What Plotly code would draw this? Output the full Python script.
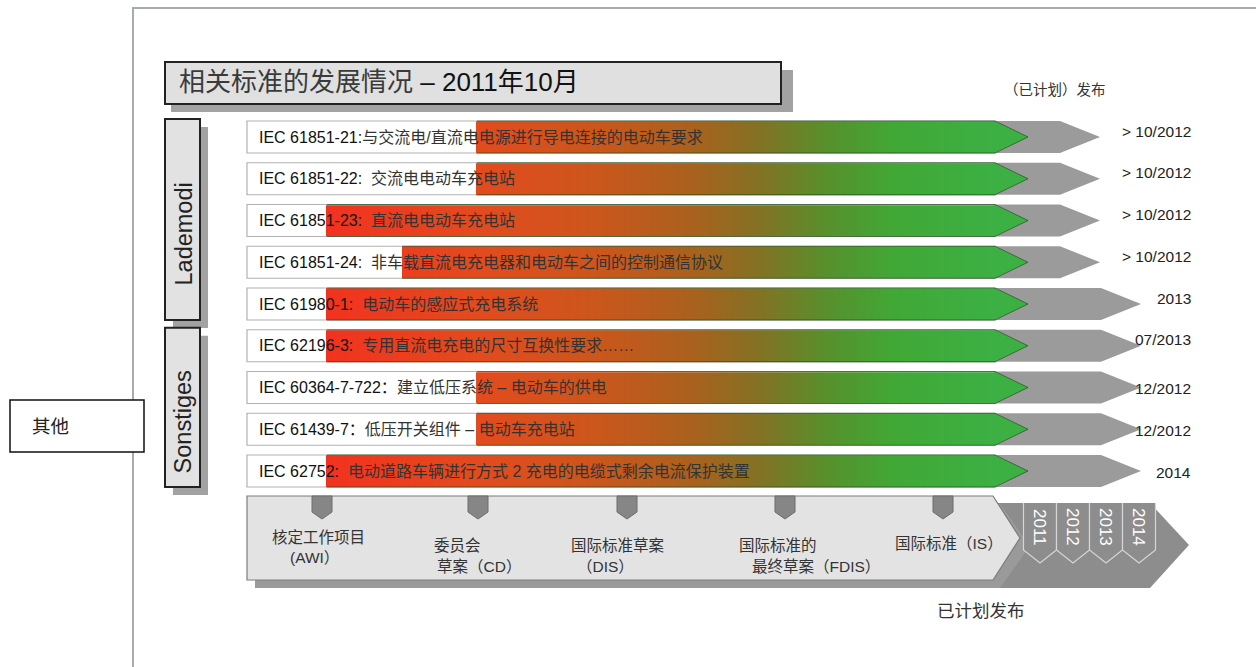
import numpy as np
import plotly.graph_objects as go

# ---------------------------------------------------------------- data
title_main = "相关标准的发展情况"
title_date = " – 2011年10月"

group_names = ["Lademodi", "Sonstiges"]
group_sizes = [5, 4]

standard_codes = [
    "IEC 61851-21:", "IEC 61851-22:", "IEC 61851-23:", "IEC 61851-24:",
    "IEC 61980-1:", "IEC 62196-3:", "IEC 60364-7-722：", "IEC 61439-7：",
    "IEC 62752:",
]
standard_titles = [
    "与交流电/直流电电源进行导电连接的电动车要求",
    "  交流电电动车充电站",
    "  直流电电动车充电站",
    "  非车载直流电充电器和电动车之间的控制通信协议",
    "  电动车的感应式充电系统",
    "  专用直流电充电的尺寸互换性要求……",
    "建立低压系统 – 电动车的供电",
    "低压开关组件 – 电动车充电站",
    "  电动道路车辆进行方式 2 充电的电缆式剩余电流保护装置",
]
# stage (0 = AWI, 1 = CD) from which each standard's progress bar starts
progress_stage = [1, 1, 0, 0.5, 0, 0, 1, 1, 0]
release_labels = ["> 10/2012", "> 10/2012", "> 10/2012", "> 10/2012",
                  "2013", "07/2013", "12/2012", "12/2012", "2014"]

stage_lines = [["核定工作项目", "(AWI）"], ["委员会", "草案（CD）"],
               ["国际标准草案", "（DIS）"], ["国际标准的", "最终草案（FDIS）"],
               ["国际标准（IS）"]]
years = ["2011", "2012", "2013", "2014"]

header_release = "（已计划）发布"
footer_release = "已计划发布"
side_note = "其他"

# ---------------------------------------------------------------- layout
W, H = 1256, 667
FONT = "Liberation Sans, Arial, Noto Sans CJK SC"
ROW_Y0, ROW_PITCH, ROW_HALF = 137, 41.75, 16
BAR_X0, BODY_X1, GREEN_TIP = 247, 995, 1028
STAGE_X = [322, 478, 627, 785, 943]
PROGRESS_X = [327, 477]          # bar start for AWI / CD stage
YEAR_X = [1040, 1073, 1106, 1139]

row_cy = [ROW_Y0 + i * ROW_PITCH for i in range(len(standard_codes))]
bar_start = np.interp(progress_stage, [0, 1], PROGRESS_X)

shapes = []
annotations = []


def path(pts, fill="rgba(0,0,0,0)", line="rgba(0,0,0,0)", lw=0,
         layer="below", closed=True):
    d = "M " + " L ".join(f"{x:.2f},{y:.2f}" for x, y in pts)
    if closed:
        d += " Z"
    shapes.append(dict(type="path", path=d, xref="x", yref="y",
                       fillcolor=fill, line=dict(color=line, width=lw),
                       layer=layer))


def rect(x0, y0, x1, y1, fill, line="rgba(0,0,0,0)", lw=0, layer="below"):
    shapes.append(dict(type="rect", x0=x0, y0=y0, x1=x1, y1=y1, xref="x",
                       yref="y", fillcolor=fill,
                       line=dict(color=line, width=lw), layer=layer))


def text(x, y, s, size, color="#222", xanchor="left", angle=0):
    annotations.append(dict(x=x, y=y, xref="x", yref="y", text=s,
                            showarrow=False, xanchor=xanchor,
                            yanchor="middle", textangle=angle,
                            font=dict(family=FONT, size=size, color=color)))


# outer frame
path([(133, 667), (133, 8), (1256, 8)], line="#a6abab", lw=2, closed=False)

# side note box
rect(10, 400, 144, 452, "white", "#111", 1.5)
text(30, 426, side_note, 18.5, "#222")

# title box with drop shadow
rect(171, 70, 793, 112, "#a2a2a2")
rect(165, 62, 781, 104, "#e0e0e0", "#222", 2)
text(177, 82, f"<span style='color:#3a3a3a'>{title_main}</span>{title_date}",
     26, "#111")
text(1055, 90, header_release, 14.5, "#333", xanchor="center")

# group boxes
start = 0
for name, n in zip(group_names, group_sizes):
    top = row_cy[start] - ROW_HALF - 2
    bot = row_cy[start + n - 1] + ROW_HALF
    rect(173, top + 8, 208, bot + 8, "#a2a2a2")
    rect(165, top, 200, bot, "#e2e2e2", "#222", 2)
    text(183, (top + bot) / 2 + 15, name, 23.5, "#222", xanchor="center",
         angle=-90)
    start += n

# standard rows
for i, cy in enumerate(row_cy):
    top, bot = cy - ROW_HALF, cy + ROW_HALF
    tip = 1100 if release_labels[i].startswith(">") else 1141
    path([(960, top), (tip - 40, top), (tip, cy), (tip - 40, bot), (960, bot)],
         "#9b9b9b")
    rect(BAR_X0, top, BODY_X1, bot, "white", "#b2b2b2", 1.2)
    path([(BODY_X1 - 1, top), (GREEN_TIP, cy), (BODY_X1 - 1, bot)], "#3db044")
    path([(bar_start[i], top), (BODY_X1, top), (GREEN_TIP, cy),
          (BODY_X1, bot), (bar_start[i], bot)],
         line="rgba(25,75,20,0.65)", lw=1, layer="above", closed=False)
    text(257, cy, f"{standard_codes[i]}<span style='color:#333'>"
         f"{standard_titles[i]}</span>", 16, "#111")
    text(1193, cy - 6 if i < 6 else cy + 1, release_labels[i], 15.5, "#222",
         xanchor="right")

# progress colour ramp, red at the start of drafting to green at publication
xs = np.arange(PROGRESS_X[0] - 1, BODY_X1, 2.0) + 1.0
z = [[float(x) if x >= s - 0.5 else None for x in xs] for s in bar_start]
ramp = [[0.0, "#f2321f"], [0.22, "#e44a1e"], [0.40, "#cc561c"],
        [0.55, "#a9611e"], [0.65, "#827224"], [0.75, "#57902c"],
        [0.85, "#41a836"], [1.0, "#3cb044"]]
heat = go.Heatmap(x=xs, y=row_cy, z=z, zmin=PROGRESS_X[0], zmax=BODY_X1,
                  colorscale=ramp, showscale=False, ygap=10, xgap=0,
                  hoverinfo="skip")

# stage timeline
path([(980, 503), (1150, 503), (1189, 545), (1150, 588), (980, 588)],
     "#8d8d8d")
path([(255, 504), (1000, 504), (1030, 546), (1000, 588), (255, 588)],
     "#9a9a9a")
path([(247, 496), (993, 496), (1020, 538), (993, 580), (247, 580)],
     "#e3e3e3", "#7c7c7c", 1.2)
for cx in STAGE_X:
    path([(cx - 10, 496), (cx + 10, 496), (cx + 10, 512), (cx, 519),
          (cx - 10, 512)], "#868686", "#6c6c6c", 1)
for cx, yr in zip(YEAR_X, years):
    path([(cx - 16.5, 503), (cx - 16.5, 550), (cx, 563), (cx + 16.5, 550),
          (cx + 16.5, 503)], "#8d8d8d", "#d6d6d6", 1.2, closed=False)
    text(cx, 527, yr, 17, "white", xanchor="center", angle=90)

stage_line_pos = [[(270, 537), (288, 557)], [(432, 545), (435, 566)],
                  [(569, 545), (575, 566)], [(737, 545), (750, 566)],
                  [(893, 543)]]
for lines, pos in zip(stage_lines, stage_line_pos):
    for s, (x, y) in zip(lines, pos):
        text(x, y, s, 15.5, "#333")

text(981, 611, footer_release, 17.5, "#333", xanchor="center")

fig = go.Figure(heat)
fig.update_layout(
    width=W, height=H, margin=dict(l=0, r=0, t=0, b=0),
    paper_bgcolor="white", plot_bgcolor="white", showlegend=False,
    shapes=shapes, annotations=annotations,
    xaxis=dict(range=[0, W], visible=False, fixedrange=True),
    yaxis=dict(range=[H, 0], visible=False, fixedrange=True),
)
fig.write_html("out.html")
